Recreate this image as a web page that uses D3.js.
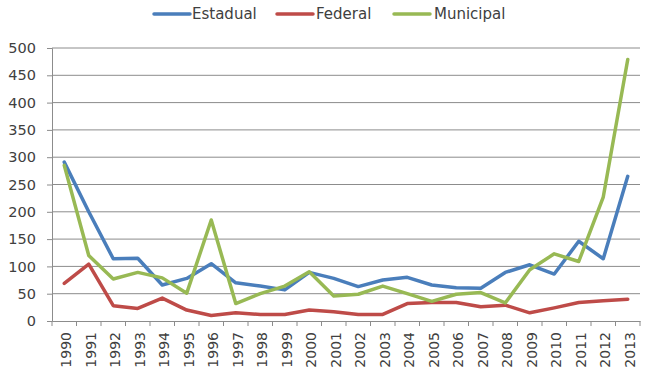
<!DOCTYPE html>
<html><head><meta charset="utf-8">
<script src="https://cdn.jsdelivr.net/npm/d3@7"></script>
<style>body{margin:0;background:#fff}svg{display:block}</style>
</head><body>
<script>
const years = ["1990","1991","1992","1993","1994","1995","1996","1997","1998","1999","2000","2001","2002","2003","2004","2005","2006","2007","2008","2009","2010","2011","2012","2013"];
const estadual = [291,200,114,115,66,78,105,70,64,57,89,78,63,75,80,66,61,60,89,103,86,146,114,265];
const federal = [69,104,28,23,42,20,10,15,12,12,20,17,12,12,32,34,34,26,29,15,24,34,37,40];
const municipal = [285,120,77,89,79,51,185,32,50,64,90,46,49,64,50,36,49,52,33,94,123,109,227,479];
const yTicks = [0,50,100,150,200,250,300,350,400,450,500];
const seriesNames = ["Estadual","Federal","Municipal"];
const colors = ["#4A7EBB","#BE4B48","#98B954"];

const W=650,H=377;
const m={l:52,r:10,t:48,b:56};
const svg=d3.select("body").append("svg").attr("width",W).attr("height",H);
const x=d3.scaleBand().domain(years).range([m.l,640]);
const y=d3.scaleLinear().domain([0,500]).range([321,48]);
const font="'DejaVu Sans', Verdana, sans-serif";

// gridlines
svg.append("g").selectAll("line").data(yTicks.slice(1)).join("line")
 .attr("x1",m.l).attr("x2",640).attr("y1",d=>y(d)).attr("y2",d=>y(d))
 .attr("stroke","#8c8c8c").attr("stroke-width",1);

// y axis
const ya=svg.append("g").attr("transform",`translate(${m.l},0)`)
 .call(d3.axisLeft(y).tickValues(yTicks).tickSize(5).tickPadding(11));
ya.select(".domain").attr("stroke","#8c8c8c");
ya.selectAll(".tick line").attr("stroke","#8c8c8c");
ya.selectAll("text").attr("font-family",font).attr("font-size",14.5).attr("fill","#404040");

// x axis
const xa=svg.append("g").attr("transform",`translate(0,${y(0)})`)
 .call(d3.axisBottom(x).tickSize(0).tickPadding(0));
xa.select(".domain").attr("stroke","#8c8c8c");
xa.selectAll(".tick text").attr("font-family",font).attr("font-size",14).attr("fill","#404040")
 .attr("transform","rotate(-90)").attr("text-anchor","end").attr("dx","-11").attr("dy","0.5em").attr("y",0).attr("x",0);
// boundary ticks
svg.append("g").selectAll("line").data(d3.range(years.length+1)).join("line")
 .attr("x1",i=>m.l+i*x.step()).attr("x2",i=>m.l+i*x.step())
 .attr("y1",y(0)).attr("y2",y(0)+5).attr("stroke","#8c8c8c");

// lines
const data=[estadual,federal,municipal];
const line=d3.line().x((d,i)=>x(years[i])+x.bandwidth()/2).y(d=>y(d));
svg.append("g").selectAll("path").data(data).join("path")
 .attr("d",line).attr("fill","none").attr("stroke",(d,i)=>colors[i])
 .attr("stroke-width",3.5).attr("stroke-linejoin","round").attr("stroke-linecap","round");

// legend
const leg=[{x:154,tx:192},{x:277,tx:316},{x:394,tx:434}];
const lg=svg.append("g");
seriesNames.forEach((n,i)=>{
 lg.append("line").attr("x1",leg[i].x).attr("x2",leg[i].x+36).attr("y1",14).attr("y2",14)
  .attr("stroke",colors[i]).attr("stroke-width",3.5).attr("stroke-linecap","round");
 lg.append("text").attr("x",leg[i].tx).attr("y",14).attr("dy","0.35em").text(n)
  .attr("font-family",font).attr("font-size",15).attr("fill","#404040");
});
</script>
</body></html>
